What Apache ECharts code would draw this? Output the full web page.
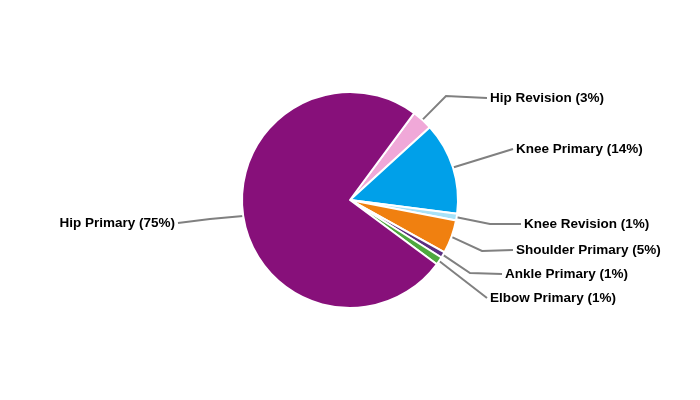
<!DOCTYPE html>
<html><head><meta charset="utf-8">
<script src="https://cdn.jsdelivr.net/npm/echarts@6/dist/echarts.min.js"></script>
<style>html,body{margin:0;padding:0;background:#fff}#c{width:700px;height:400px}</style>
</head><body><div id="c"></div>
<script>
const categories = ['Hip Revision','Knee Primary','Knee Revision','Shoulder Primary','Ankle Primary','Elbow Primary','Hip Primary'];
const values = [3.1, 13.8, 1.0, 5.0, 0.9, 1.2, 75.0];
const colors = ['#F0A8D8','#00A0E9','#A8E2F8','#F08010','#5C2E82','#4EA83E','#87107A'];
// label layout: [textX, textY, align, bendX, bendY]
const labelPlaces = [
  [490, 98, 'left', 446, 96],
  [516, 149, 'left', null, null],
  [524, 224, 'left', 490, 224],
  [516, 250, 'left', 482, 251],
  [505, 274, 'left', 470, 273],
  [490, 298, 'left', null, null],
  [175, 223, 'right', 210, 219]
];
const chart = echarts.init(document.getElementById('c'));
chart.setOption({
  animation:false,
  series:[{
    type:'pie',
    center:[350,200],
    radius:108,
    startAngle:53.5,
    clockwise:true,
    avoidLabelOverlap:false,
    itemStyle:{borderColor:'#fff',borderWidth:2},
    label:{
      show:true,
      formatter:p=>p.name+' ('+Math.round(p.percent)+'%)',
      fontFamily:'Liberation Sans, Arial, sans-serif',
      fontWeight:'bold',
      fontSize:13.5,
      color:'#000'
    },
    labelLine:{show:true,length:22,length2:34,lineStyle:{color:'#808080',width:2}},
    labelLayout:function(p){
      const lp = labelPlaces[p.dataIndex];
      const start = p.labelLinePoints ? p.labelLinePoints[0] : [350,200];
      const endX = lp[2]==='left' ? lp[0]-3 : lp[0]+3;
      const pts = lp[3]===null ? [start,[endX,lp[1]],[endX,lp[1]]] : [start,[lp[3],lp[4]],[endX,lp[1]]];
      return {x:lp[0], y:lp[1], align:lp[2], verticalAlign:'middle', labelLinePoints:pts};
    },
    data:categories.map((n,i)=>({name:n,value:values[i],itemStyle:{color:colors[i]}}))
  }]
});
</script></body></html>
